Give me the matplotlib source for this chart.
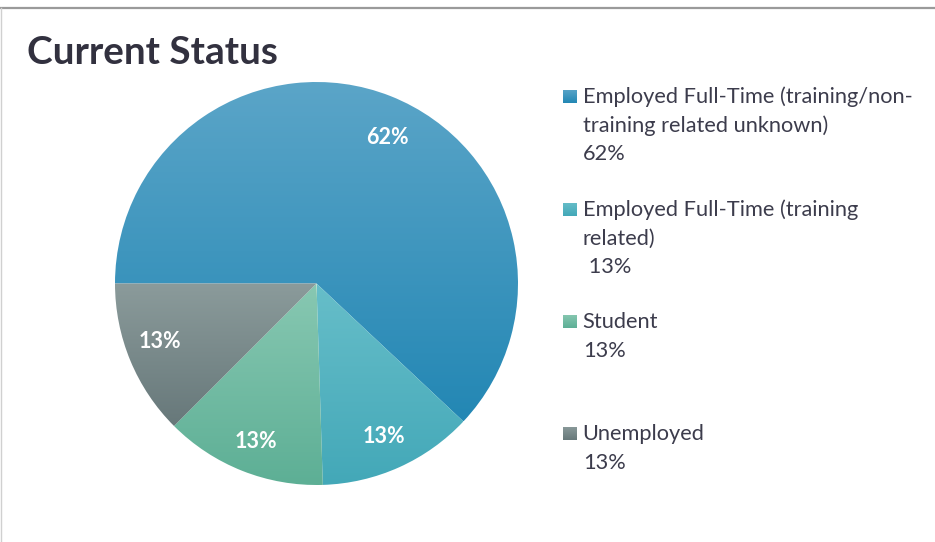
import numpy as np
import matplotlib.pyplot as plt
from matplotlib.colors import LinearSegmentedColormap
from matplotlib.patches import Rectangle
from matplotlib.lines import Line2D

plt.rcParams['font.family'] = ['Lato', 'DejaVu Sans']

# data
categories = ["Employed Full-Time (training/non-\ntraining related unknown)",
              "Employed Full-Time (training\nrelated)",
              "Student",
              "Unemployed"]
shares = [62, 12.5, 13, 12.5]
pct_labels = ["62%", "13%", "13%", "13%"]
legend_pct = ["62%", " 13%", "13%", "13%"]

top_cols = ["#5ba5c8", "#67bec9", "#88c8b2", "#8b9b9b"]
bot_cols = ["#2387b4", "#43a8b8", "#5daf95", "#67787a"]
# small nudges (px) so the labels sit where Excel put them
lab_nudge = [(9.5, -10), (-1, -1), (1, -2.5), (-2, 6.5)]

W, H = 935, 542
fig = plt.figure(figsize=(W / 100, H / 100), dpi=100)
ax = fig.add_axes([0, 0, 1, 1])

cx, cy, r = 316.5, H - 283.5, 201.5
wedges, _ = ax.pie(shares, startangle=180, counterclock=False, radius=r,
                   center=(cx, cy), frame=True,
                   wedgeprops=dict(linewidth=0, edgecolor="none"))


def grad_fill(patch, c_top, c_bot, extent):
    cmap = LinearSegmentedColormap.from_list("g", [c_bot, c_top])
    g = np.linspace(0, 1, 256).reshape(-1, 1)
    im = ax.imshow(g, cmap=cmap, extent=extent, origin="lower",
                   aspect="auto", interpolation="bilinear", zorder=1)
    im.set_clip_path(patch)


for w, ct, cb, lab, (dx, dy) in zip(wedges, top_cols, bot_cols, pct_labels, lab_nudge):
    w.set_facecolor("none")
    bb = w.get_path().get_extents(w.get_patch_transform())
    grad_fill(w, ct, cb, [bb.x0, bb.x1, bb.y0, bb.y1])
    mid = np.deg2rad((w.theta1 + w.theta2) / 2)
    ax.text(cx + 0.83 * r * np.cos(mid) + dx, cy + 0.83 * r * np.sin(mid) + dy, lab,
            color="white", fontsize=15.5, fontweight="bold",
            ha="center", va="center", zorder=3)

# legend, drawn by hand
text_col = "#3c3c4c"
base_y = [103, 216, 328, 440]
line_gap = 28.7
for i, (cat, p) in enumerate(zip(categories, legend_pct)):
    lines = cat.split("\n") + [p]
    y0 = H - base_y[i]
    sq = Rectangle((563.3, y0), 13.4, 13.4, facecolor="none", edgecolor="none")
    ax.add_patch(sq)
    grad_fill(sq, top_cols[i], bot_cols[i], [563.3, 576.7, y0, y0 + 13.4])
    for j, ln in enumerate(lines):
        ax.text(582.7, y0 - j * line_gap, ln, color=text_col, fontsize=15.7,
                ha="left", va="baseline")

ax.text(26.7, H - 64, "Current Status", color="#32313f", fontsize=27.9,
        fontweight="bold", ha="left", va="baseline")

ax.set_xlim(0, W)
ax.set_ylim(0, H)
ax.set_aspect("auto")
ax.axis("off")

# chart frame
fig.add_artist(Line2D([0, 1], [1 - 8 / H, 1 - 8 / H], color="#9a9a9a", lw=1.6))
fig.add_artist(Line2D([0.6 / W, 0.6 / W], [0, 1 - 8 / H], color="#d0d0d0", lw=1))

fig.savefig("out.png", dpi=100)
